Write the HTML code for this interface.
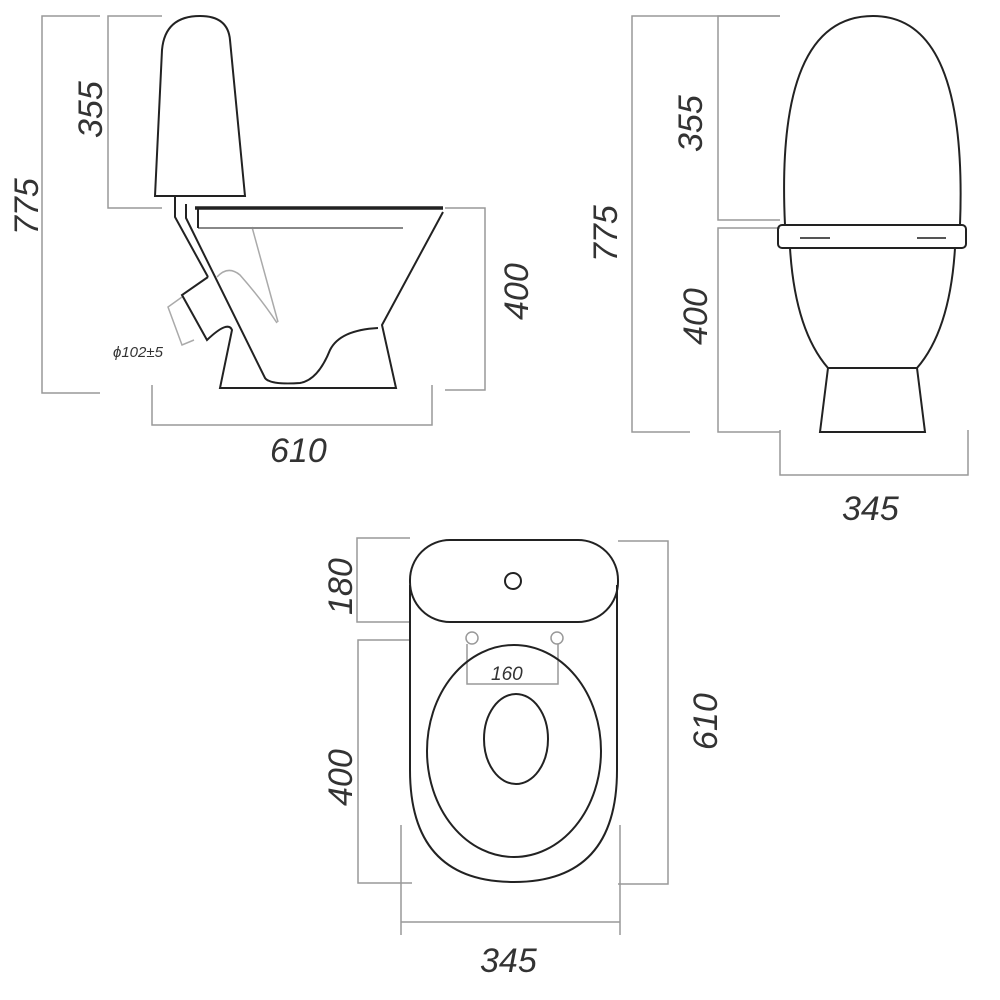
<!DOCTYPE html><html><head><style>body{margin:0;background:#fff}svg{display:block}text{font-family:"Liberation Sans",sans-serif;font-style:italic;fill:#333}</style></head><body>
<svg width="1000" height="1000" viewBox="0 0 1000 1000">
<g fill="none" stroke="#999" stroke-width="1.5">
<path d="M100,16H42V393H100"/><path d="M162,16H108V208H162"/><path d="M445,208H485V390H445"/><path d="M152,385V425H432V385"/>
<path d="M780,16H632V432H690"/><path d="M780,16H718V220H780"/><path d="M780,228H718V432H780"/><path d="M780,430V475H968V430"/>
<path d="M410,538H357V622H410"/><path d="M410,640H358V883H412"/><path d="M618,541H668V884H618"/><path d="M401,825V935"/><path d="M620,825V935"/><path d="M401,922H620"/>
<path d="M467,644V684H558V644"/>
<path d="M252,227L278,322" stroke="#aaa"/><path d="M217,277Q228,265 240,275Q262,300 277,323" stroke="#aaa"/>
<path d="M182,297L168,307L182,345L194,340" stroke="#aaa"/>
</g>
<g fill="none" stroke="#222" stroke-width="2">
<path d="M155,196L162,50Q165,16 200,16Q228,16 230,40L245,196Z"/>
<path d="M195,208H443" stroke-width="3.5"/><path d="M198,228H403" stroke="#888"/>
<path d="M443,212L382,325L396,388H220L232,330Q228,320 207,340L182,295L208,277"/>
<path d="M175,196V217L208,277"/><path d="M186,204V218L265,378Q270,385 300,383Q318,380 330,350Q340,330 378,328"/>
<path d="M198,208V228"/>
<path d="M785,225Q775,16 873,16Q968,16 960,225"/><rect x="778" y="225" width="188" height="23" rx="4"/>
<path d="M790,248Q795,330 828,368H917Q950,330 955,248"/><path d="M828,368L820,432H925L917,368"/>
<path d="M800,238H830M917,238H946" stroke="#555"/>
<rect x="410" y="540" width="208" height="82" rx="40"/><circle cx="513" cy="581" r="8"/>
<path d="M410,585V770Q410,882 514,882Q617,882 617,770V585"/>
<ellipse cx="514" cy="751" rx="87" ry="106"/><ellipse cx="516" cy="739" rx="32" ry="45"/>
<circle cx="472" cy="638" r="6" stroke="#999" stroke-width="1.5"/><circle cx="557" cy="638" r="6" stroke="#999" stroke-width="1.5"/>
</g>
<g font-size="34">
<text transform="translate(102,138) rotate(-90)">355</text>
<text transform="translate(38,235) rotate(-90)">775</text>
<text transform="translate(528,320) rotate(-90)">400</text>
<text x="270" y="462">610</text>
<text transform="translate(702,152) rotate(-90)">355</text>
<text transform="translate(617,262) rotate(-90)">775</text>
<text transform="translate(707,345) rotate(-90)">400</text>
<text x="842" y="520">345</text>
<text transform="translate(352,615) rotate(-90)">180</text>
<text transform="translate(352,806) rotate(-90)">400</text>
<text transform="translate(717,750) rotate(-90)">610</text>
<text x="480" y="972">345</text>
</g>
<text x="491" y="680" font-size="19">160</text>
<text x="113" y="357" font-size="15">ϕ102±5</text>
</svg></body></html>
